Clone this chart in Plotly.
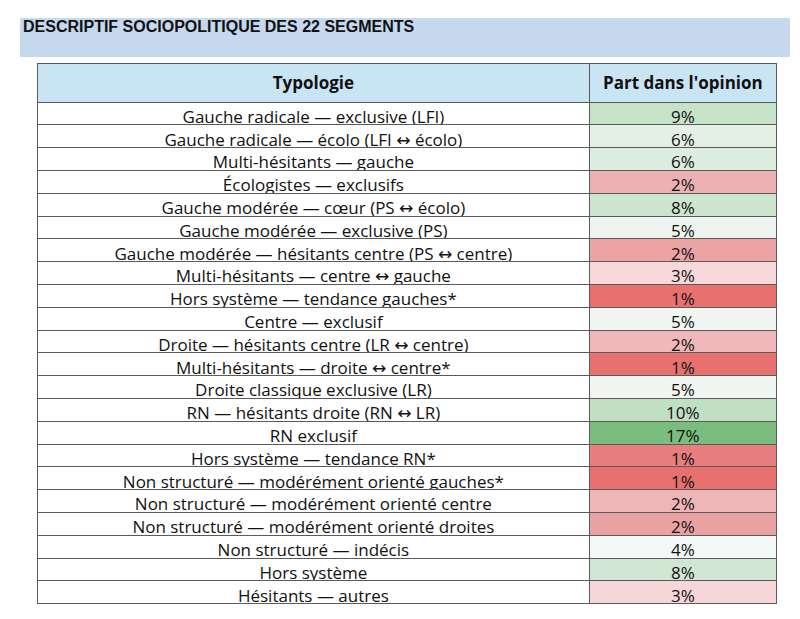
import plotly.graph_objects as go

# Data
typologie = [
    "Gauche radicale — exclusive (LFI)",
    "Gauche radicale — écolo (LFI ↔ écolo)",
    "Multi-hésitants — gauche",
    "Écologistes — exclusifs",
    "Gauche modérée — cœur (PS ↔ écolo)",
    "Gauche modérée — exclusive (PS)",
    "Gauche modérée — hésitants centre (PS ↔ centre)",
    "Multi-hésitants — centre ↔ gauche",
    "Hors système — tendance gauches*",
    "Centre — exclusif",
    "Droite — hésitants centre (LR ↔ centre)",
    "Multi-hésitants — droite ↔ centre*",
    "Droite classique exclusive (LR)",
    "RN — hésitants droite (RN ↔ LR)",
    "RN exclusif",
    "Hors système — tendance RN*",
    "Non structuré — modérément orienté gauches*",
    "Non structuré — modérément orienté centre",
    "Non structuré — modérément orienté droites",
    "Non structuré — indécis",
    "Hors système",
    "Hésitants — autres",
]
part = [9, 6, 6, 2, 8, 5, 2, 3, 1, 5, 2, 1, 5, 10, 17, 1, 1, 2, 2, 4, 8, 3]

# colour scale of the value column
part_colors = [
    "#c6e2c9", "#e4f0e5", "#ddeddf", "#eeb1b3", "#cde5cf", "#eef5f1",
    "#eba3a4", "#f6d7da", "#e8716f", "#f1f6f2", "#f0b8ba", "#e8716f",
    "#f1f6f2", "#c0dfc3", "#7bbd7f", "#e87e7d", "#e8716f", "#efb6b8",
    "#eba2a3", "#f3f7f5", "#d1e7d4", "#f6d6d9",
]

# the page body has an 8px margin, so the figure is a bit smaller
OFF = 8
W, H = 800 - OFF, 619 - OFF


def px(x):
    return (x - OFF) / W


def py(y):
    return 1 - (y - OFF) / H


font = "Open Sans, Roboto, DejaVu Sans, sans-serif"

table = go.Table(
    domain=dict(x=[px(37), px(776)], y=[0, py(63)]),
    columnwidth=[552, 186],
    header=dict(
        values=["<b>Typologie</b>", "<b>Part dans l'opinion</b>"],
        fill_color="#c9e4f3",
        line=dict(color="#5a5a5a", width=1),
        align="center",
        font=dict(family=font, size=17, color="#111111"),
        height=39,
    ),
    cells=dict(
        values=[typologie, [f"{v}%" for v in part]],
        fill_color=[["white"] * len(typologie), part_colors],
        line=dict(color="#5a5a5a", width=1),
        align="center",
        font=dict(family=font, size=17, color="#111111"),
        height=22.8,
    ),
)

fig = go.Figure(data=[table])

fig.update_layout(
    width=W,
    height=H,
    margin=dict(l=0, r=0, t=0, b=0),
    paper_bgcolor="white",
    shapes=[dict(type="rect", xref="paper", yref="paper",
                 x0=px(20), x1=px(790), y0=py(57), y1=py(18),
                 fillcolor="#c5d8ed", line=dict(width=0), layer="below")],
    annotations=[dict(text="<b>DESCRIPTIF SOCIOPOLITIQUE DES 22 SEGMENTS</b>",
                      xref="paper", yref="paper", x=px(21), y=py(27),
                      xanchor="left", yanchor="middle", showarrow=False,
                      font=dict(family="Liberation Sans, Arial, sans-serif",
                                size=16, color="#111111"))],
)

fig.write_html("out.html")
